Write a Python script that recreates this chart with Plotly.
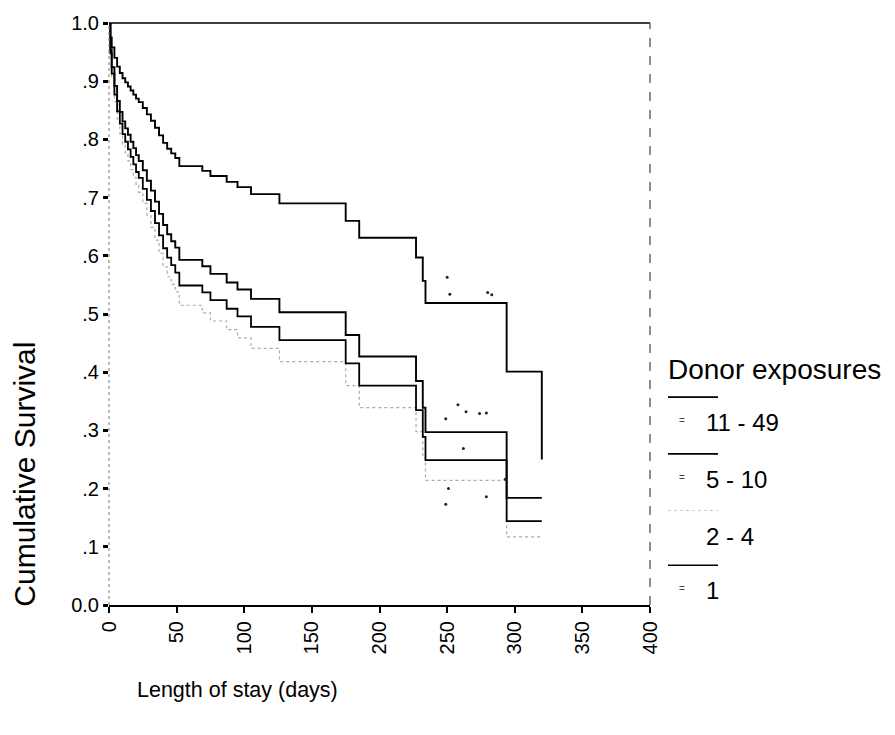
import plotly.graph_objects as go

# Event times (days) shared by the step curves
days = [0, 1, 2, 4, 6, 8, 10, 12, 14, 16, 18, 20, 22, 25, 28, 31, 34, 37, 40,
        43, 46, 49, 52, 69, 75, 87, 95, 105, 126, 175, 185, 227, 232, 234, 294, 320]

# Cumulative survival for each donor-exposure group
surv_11_49 = [1.0, .975, .958, .940, .925, .914, .905, .898, .891, .884, .877, .870,
              .864, .854, .843, .832, .820, .807, .794, .784, .776, .768, .754, .746,
              .737, .727, .718, .706, .690, .660, .631, .597, .557, .519, .401, .250]
surv_5_10 = [1.0, .954, .924, .892, .866, .847, .831, .819, .808, .796, .785, .773,
             .763, .747, .729, .712, .693, .672, .653, .637, .625, .614, .593, .582,
             .569, .554, .542, .526, .503, .464, .427, .385, .339, .297, .184, .184]
surv_2_4 = [1.0, .942, .904, .865, .833, .810, .791, .777, .763, .748, .735, .721,
            .709, .690, .670, .649, .627, .604, .581, .564, .551, .538, .515, .502,
            .488, .473, .459, .441, .418, .377, .339, .298, .253, .214, .117, .117]
surv_1 = [1.0, .948, .913, .877, .848, .827, .809, .796, .783, .770, .757, .744,
          .734, .715, .696, .677, .656, .635, .613, .597, .584, .571, .549, .537,
          .524, .509, .496, .478, .455, .415, .377, .335, .289, .249, .144, .144]

# Censored observations
cens_days = [250, 252, 280, 283, 249, 258, 264, 274, 279, 251, 249, 279, 262, 293]
cens_surv = [.563, .534, .537, .533, .320, .344, .332, .329, .330, .200, .173, .186, .269, .216]

group_names = ["11 - 49", "5 - 10", "2 - 4", "1"]
x_ticks = [0, 50, 100, 150, 200, 250, 300, 350, 400]
y_ticks = [0, .1, .2, .3, .4, .5, .6, .7, .8, .9, 1.0]
y_ticktext = ["0.0", ".1", ".2", ".3", ".4", ".5", ".6", ".7", ".8", ".9", "1.0"]

FONT = "Liberation Sans, Arial, Helvetica, sans-serif"
W, H = 895, 735
L, R, T, B = 109, 245, 20, 130
PW, PH = W - L - R, H - T - B


def px_x(px):
    return (px - L) / PW


def px_y(py):
    return (H - B - py) / PH


series = [
    (surv_11_49, dict(color="black", width=1.9)),
    (surv_5_10, dict(color="black", width=1.9)),
    (surv_2_4, dict(color="#ababab", width=1.2, dash="dot")),
    (surv_1, dict(color="black", width=1.8)),
]

fig = go.Figure()
for (vals, style), name in zip(series, group_names):
    fig.add_trace(go.Scatter(x=days, y=vals, mode="lines", line_shape="hv",
                             line=style, name=name, showlegend=False))

fig.add_trace(go.Scatter(x=cens_days, y=cens_surv, mode="markers",
                         marker=dict(size=3, color="#222"), showlegend=False))

shapes = [
    # frame: solid top, dashed sides
    dict(type="line", xref="paper", yref="paper", x0=0, x1=1, y0=1, y1=1,
         line=dict(color="black", width=1.6)),
    dict(type="line", xref="paper", yref="paper", x0=0, x1=0, y0=0, y1=1,
         line=dict(color="#777", width=1, dash="dot")),
    dict(type="line", xref="paper", yref="paper", x0=1, x1=1, y0=0, y1=1,
         line=dict(color="#444", width=1.2, dash="dash")),
]

annotations = [
    dict(text="Cumulative Survival", textangle=-90, xref="paper", yref="paper",
         x=px_x(25), y=px_y(474), showarrow=False, xanchor="center", yanchor="middle",
         font=dict(family=FONT, size=30, color="black")),
    dict(text="Length of stay (days)", xref="paper", yref="paper",
         x=px_x(135), y=px_y(690), showarrow=False, xanchor="left", yanchor="middle",
         font=dict(family=FONT, size=21.5, color="black")),
    dict(text="Donor exposures", xref="paper", yref="paper",
         x=px_x(666), y=px_y(368), showarrow=False, xanchor="left", yanchor="middle",
         font=dict(family=FONT, size=28, color="black")),
]

# legend rows: sample line above each label
legend_rows = [
    (396, 422, dict(color="black", width=1.8), True),
    (453, 479, dict(color="black", width=1.8), True),
    (510, 536, dict(color="#cdcdcd", width=1, dash="dot"), False),
    (565, 590, dict(color="black", width=1.4), True),
]
for name, (ly, ty, lstyle, mark) in zip(group_names, legend_rows):
    shapes.append(dict(type="line", xref="paper", yref="paper",
                       x0=px_x(668), x1=px_x(718), y0=px_y(ly), y1=px_y(ly), line=lstyle))
    if mark:
        annotations.append(dict(text="=", xref="paper", yref="paper",
                                x=px_x(682), y=px_y(ty - 2), showarrow=False,
                                xanchor="center", yanchor="middle",
                                font=dict(family=FONT, size=10, color="#444")))
    annotations.append(dict(text=name, xref="paper", yref="paper",
                            x=px_x(704), y=px_y(ty), showarrow=False,
                            xanchor="left", yanchor="middle",
                            font=dict(family=FONT, size=24, color="black")))

fig.update_layout(
    width=W, height=H,
    margin=dict(l=L, r=R, t=T, b=B, pad=0),
    paper_bgcolor="white", plot_bgcolor="white",
    font=dict(family=FONT, color="black"),
    shapes=shapes, annotations=annotations,
    xaxis=dict(range=[0, 400], tickvals=x_ticks, tickangle=-90,
               ticks="outside", ticklen=6, tickwidth=1.5, tickcolor="black",
               showline=True, linecolor="black", linewidth=2,
               showgrid=False, zeroline=False,
               tickfont=dict(family=FONT, size=20, color="black")),
    yaxis=dict(range=[0, 1], tickvals=y_ticks, ticktext=y_ticktext,
               ticks="outside", ticklen=5, tickwidth=2.5, tickcolor="black",
               showline=False, showgrid=False, zeroline=False,
               tickfont=dict(family=FONT, size=20, color="black")),
)

fig.write_html("out.html")
